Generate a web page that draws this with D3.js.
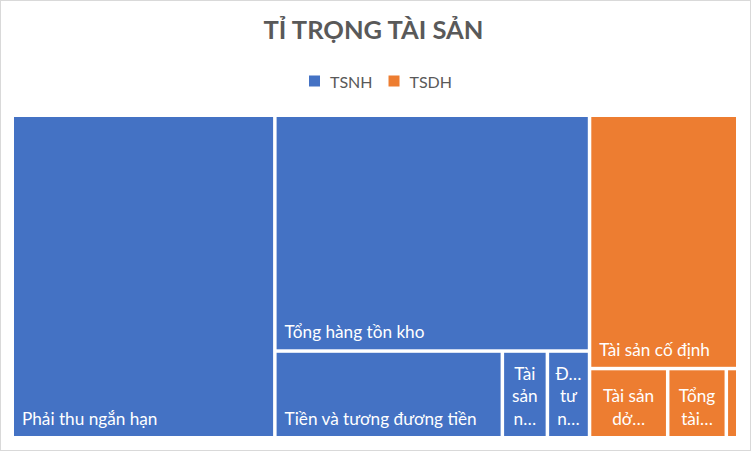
<!DOCTYPE html>
<html>
<head>
<meta charset="utf-8">
<script src="https://cdn.jsdelivr.net/npm/d3@7"></script>
<style>
  body { margin: 0; background: #fff; }
  svg { display: block; font-family: Lato, "Noto Sans", sans-serif; }
</style>
</head>
<body>
<div id="chart"></div>
<script>
// data (relative weights)
var groups = ["TSNH", "TSDH"];
var categories = [
  "Phải thu ngắn hạn", "Tổng hàng tồn kho", "Tiền và tương đương tiền",
  "Tài sản ngắn hạn khác", "Đầu tư ngắn hạn",
  "Tài sản cố định", "Tài sản dở dang dài hạn", "Tổng tài sản dài hạn khác",
  "Đầu tư tài chính dài hạn"
];
var categoryGroup = ["TSNH", "TSNH", "TSNH", "TSNH", "TSNH", "TSDH", "TSDH", "TSDH", "TSDH"];
var values = [84576, 74104, 19700, 3900, 3650, 37492, 5400, 4050, 790];

var W = 751, H = 451;
var margin = {top: 117, right: 15, bottom: 15, left: 14},
    width = W - margin.left - margin.right,
    height = H - margin.top - margin.bottom;

var color = d3.scaleOrdinal().domain(groups).range(["#4472C4", "#ED7D31"]);

var svg = d3.select("#chart")
  .append("svg")
    .attr("width", W)
    .attr("height", H);

// chart area border
svg.append("rect")
  .attr("x", 0.5).attr("y", 0.5)
  .attr("width", W - 1).attr("height", H - 1)
  .attr("fill", "#fff")
  .attr("stroke", "#d9d9d9");

// title
svg.append("text")
  .attr("x", W / 2 - 2)
  .attr("y", 39)
  .attr("text-anchor", "middle")
  .attr("font-size", 25.5)
  .attr("font-weight", "bold")
  .attr("fill", "#595959")
  .text("TỈ TRỌNG TÀI SẢN");

// legend
var legend = svg.append("g").attr("transform", "translate(309,75)");
var lx = 0;
groups.forEach(function(g) {
  var item = legend.append("g").attr("transform", "translate(" + lx + ",0)");
  item.append("rect").attr("width", 11).attr("height", 11).attr("y", 0.5).attr("fill", color(g));
  var t = item.append("text")
    .attr("x", 21).attr("y", 12.5)
    .attr("font-size", 16)
    .attr("fill", "#595959")
    .text(g);
  lx += 21 + t.node().getComputedTextLength() + 16;
});

// hierarchy
var table = categories.map(function(c, i) {
  return {name: c, group: categoryGroup[i], value: values[i]};
});
var rootData = {
  name: "root",
  children: groups.map(function(g) {
    return {name: g, children: table.filter(function(d) { return d.group === g; })};
  })
};

var root = d3.hierarchy(rootData)
  .sum(function(d) { return d.children ? 0 : d.value; })
  .sort(function(a, b) { return b.value - a.value; });

d3.treemap()
  .tile(d3.treemapSquarify.ratio(1))
  .size([width, height])
  .paddingInner(3.5)
  .round(false)(root);

var g = svg.append("g").attr("transform", "translate(" + margin.left + "," + margin.top + ")");

var leaf = g.selectAll("g.leaf")
  .data(root.leaves())
  .enter().append("g")
    .attr("class", "leaf")
    .attr("transform", function(d) { return "translate(" + d.x0 + "," + d.y0 + ")"; });

leaf.append("rect")
  .attr("width", function(d) { return d.x1 - d.x0; })
  .attr("height", function(d) { return d.y1 - d.y0; })
  .attr("fill", function(d) { return color(d.parent.data.name); });

var fontSize = 17.2, lineH = 22.5, padX = 6, baseOff = 11;

leaf.each(function(d) {
  var w = d.x1 - d.x0, h = d.y1 - d.y0;
  var avail = w - 2 * padX;
  if (avail < 8) return;
  var t = d3.select(this).append("text")
    .attr("font-size", fontSize)
    .attr("fill", "#fff");
  function measure(s) { t.text(s); return t.node().getComputedTextLength(); }

  var text = d.data.name;
  if (measure(text) <= w - 16) {
    t.attr("x", 8).attr("y", h - baseOff).text(text);
    return;
  }
  var maxLines = Math.max(1, Math.floor((h - 8) / lineH));
  var words = text.split(" "), lines = [], i = 0;
  function cut(word) {
    for (var k = word.length - 1; k >= 1; k--) {
      if (measure(word.slice(0, k) + "…") <= avail) return word.slice(0, k) + "…";
    }
    return "…";
  }
  while (i < words.length && lines.length < maxLines) {
    var last = lines.length === maxLines - 1;
    var line;
    if (measure(words[i]) > avail) {
      line = cut(words[i]); i++;
    } else {
      var parts = [words[i]]; i++;
      while (i < words.length && measure(parts.concat(words[i]).join(" ")) <= avail) { parts.push(words[i]); i++; }
      if (last && i < words.length) {
        while (parts.length > 1 && measure(parts.join(" ") + "…") > avail) { parts.pop(); i--; }
        line = measure(parts.join(" ") + "…") <= avail ? parts.join(" ") + "…" : cut(parts[0]);
      } else {
        line = parts.join(" ");
      }
    }
    lines.push(line);
  }
  t.text(null);
  var n = lines.length;
  lines.forEach(function(s, k) {
    t.append("tspan")
      .attr("x", w / 2)
      .attr("y", h - baseOff - (n - 1 - k) * lineH)
      .attr("text-anchor", "middle")
      .text(s);
  });
});
</script>
</body>
</html>
